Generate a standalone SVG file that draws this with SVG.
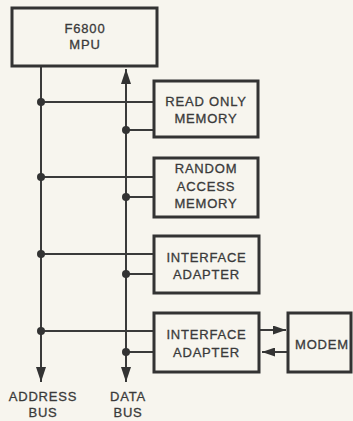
<svg xmlns="http://www.w3.org/2000/svg" width="353" height="421" viewBox="0 0 353 421">
<style>
.box{fill:#f7f5ee;stroke:#333;stroke-width:3}
.ln{stroke:#3a3a3a;stroke-width:2;fill:none}
.dot{fill:#333}
text{font-family:"Liberation Sans",Arial,sans-serif;font-size:13px;fill:#3a3a3a;stroke:#3a3a3a;stroke-width:0.3;text-anchor:middle;letter-spacing:0.8px}
</style>
<defs>
<marker id="ah" viewBox="0 0 15 10" refX="15" refY="5" markerWidth="7.5" markerHeight="5" orient="auto-start-reverse" markerUnits="strokeWidth">
<path d="M0,0 L15,5 L0,10 Z" fill="#333"/>
</marker>
<marker id="sh" viewBox="0 0 13 9" refX="13" refY="4.5" markerWidth="6.5" markerHeight="4.5" orient="auto" markerUnits="strokeWidth">
<path d="M0,0 L13,4.5 L0,9 Z" fill="#333"/>
</marker>
</defs>
<rect width="353" height="421" fill="#f7f5ee"/>
<g id="connectors">
<line class="ln" x1="41" y1="66" x2="41" y2="382" marker-end="url(#ah)"/>
<line class="ln" x1="126" y1="382" x2="126" y2="69" marker-end="url(#ah)" marker-start="url(#ah)"/>
<line class="ln" x1="41" y1="102" x2="154" y2="102"/>
<line class="ln" x1="126" y1="130" x2="154" y2="130"/>
<line class="ln" x1="41" y1="177" x2="154" y2="177"/>
<line class="ln" x1="126" y1="197" x2="154" y2="197"/>
<line class="ln" x1="41" y1="254" x2="154" y2="254"/>
<line class="ln" x1="126" y1="274" x2="154" y2="274"/>
<line class="ln" x1="41" y1="331" x2="154" y2="331"/>
<line class="ln" x1="126" y1="352" x2="154" y2="352"/>
<line class="ln" x1="259" y1="330" x2="286" y2="330" marker-end="url(#sh)"/>
<line class="ln" x1="288" y1="352" x2="262" y2="352" marker-end="url(#sh)"/>
<circle class="dot" cx="41" cy="102" r="4"/>
<circle class="dot" cx="126" cy="130" r="4"/>
<circle class="dot" cx="41" cy="177" r="4"/>
<circle class="dot" cx="126" cy="197" r="4"/>
<circle class="dot" cx="41" cy="254" r="4"/>
<circle class="dot" cx="126" cy="274" r="4"/>
<circle class="dot" cx="41" cy="331" r="4"/>
<circle class="dot" cx="126" cy="352" r="4"/>
</g>
<g id="mpu">
<rect class="box" x="12" y="8" width="145" height="58"/>
<text x="85" y="33">F6800</text>
<text x="85" y="49">MPU</text>
</g>
<g id="rom">
<rect class="box" x="154" y="81" width="104" height="56"/>
<text x="206" y="106">READ ONLY</text>
<text x="206" y="123">MEMORY</text>
</g>
<g id="ram">
<rect class="box" x="154" y="158" width="104" height="59"/>
<text x="206" y="173">RANDOM</text>
<text x="206" y="191">ACCESS</text>
<text x="206" y="208">MEMORY</text>
</g>
<g id="ia1">
<rect class="box" x="154" y="236" width="105" height="57"/>
<text x="206.5" y="262">INTERFACE</text>
<text x="206.5" y="279">ADAPTER</text>
</g>
<g id="ia2">
<rect class="box" x="154" y="313" width="105" height="59"/>
<text x="206.5" y="338.5">INTERFACE</text>
<text x="206.5" y="357">ADAPTER</text>
</g>
<g id="modem">
<rect class="box" x="288" y="313" width="63" height="59"/>
<text x="322" y="348.5">MODEM</text>
</g>
<g id="address-bus-label">
<text x="43" y="401">ADDRESS</text>
<text x="43" y="417">BUS</text>
</g>
<g id="data-bus-label">
<text x="128" y="401">DATA</text>
<text x="128" y="417">BUS</text>
</g>
</svg>
